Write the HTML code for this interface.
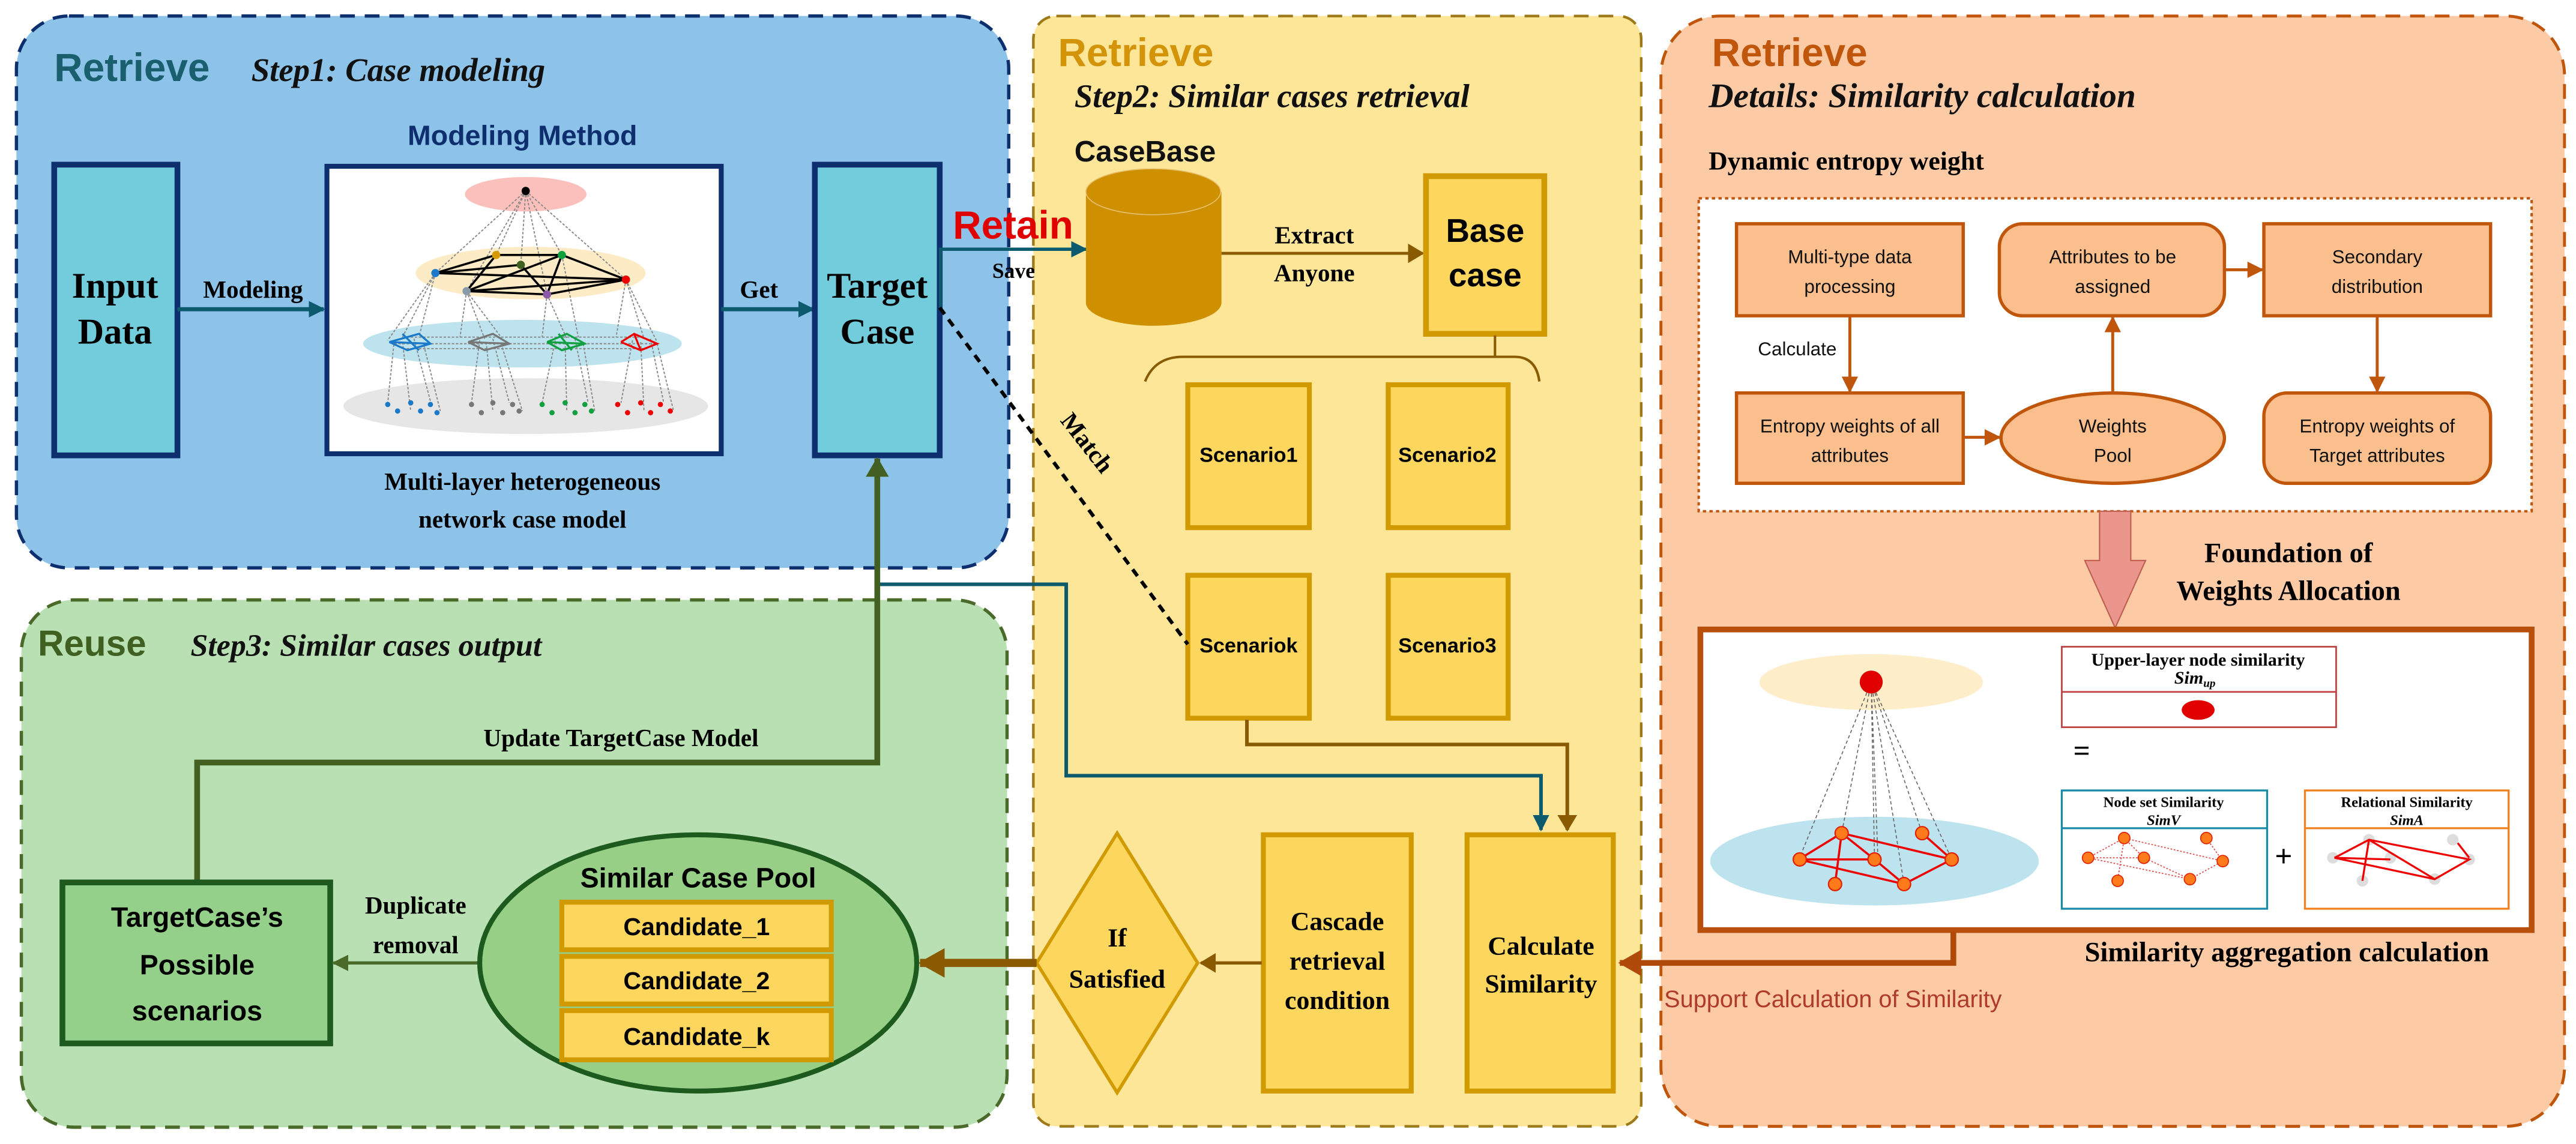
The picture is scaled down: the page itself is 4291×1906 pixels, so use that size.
<!DOCTYPE html>
<html><head><meta charset="utf-8"><style>
html,body{margin:0;padding:0;background:#fff;}
svg{display:block}
.s{font-family:"Liberation Sans",sans-serif;font-weight:bold}
.r{font-family:"Liberation Serif",serif;font-weight:bold}
.i{font-family:"Liberation Serif",serif;font-weight:bold;font-style:italic}
</style></head><body>
<svg width="4291" height="1906" viewBox="0 0 1568 696" xmlns="http://www.w3.org/2000/svg">
<defs>
<marker id="aT" markerWidth="10" markerHeight="10" refX="9" refY="5" orient="auto" markerUnits="userSpaceOnUse" viewBox="0 0 10 10"><path d="M0,0L10,5L0,10z" fill="#0b5a6e"/></marker>
<marker id="aB" markerWidth="10" markerHeight="12" refX="9" refY="6" orient="auto" markerUnits="userSpaceOnUse" viewBox="0 0 10 12"><path d="M0,0L10,6L0,12z" fill="#8a5a00"/></marker>
<marker id="aBig" markerWidth="16" markerHeight="18" refX="15" refY="9" orient="auto" markerUnits="userSpaceOnUse" viewBox="0 0 16 18"><path d="M0,0L16,9L0,18z" fill="#8a5a00"/></marker>
<marker id="aO" markerWidth="10" markerHeight="10" refX="9" refY="5" orient="auto" markerUnits="userSpaceOnUse" viewBox="0 0 10 10"><path d="M0,0L10,5L0,10z" fill="#c0560c"/></marker>
<marker id="aOBig" markerWidth="14" markerHeight="16" refX="13" refY="8" orient="auto" markerUnits="userSpaceOnUse" viewBox="0 0 14 16"><path d="M0,0L14,8L0,16z" fill="#b04a0a"/></marker>
<marker id="aG" markerWidth="10" markerHeight="10" refX="9" refY="5" orient="auto" markerUnits="userSpaceOnUse" viewBox="0 0 10 10"><path d="M0,0L10,5L0,10z" fill="#4a6a2a"/></marker>
<marker id="aGBig" markerWidth="12" markerHeight="14" refX="11" refY="7" orient="auto" markerUnits="userSpaceOnUse" viewBox="0 0 12 14"><path d="M0,0L12,7L0,14z" fill="#435f22"/></marker>
</defs>

<!-- Panels -->
<rect x="10" y="9.5" width="604" height="336" rx="32" fill="#8dc3e8" stroke="#0d2f6e" stroke-width="2" stroke-dasharray="9,6"/>
<rect x="13" y="365" width="600" height="321" rx="32" fill="#b8e0b3" stroke="#4a6a2a" stroke-width="2" stroke-dasharray="9,6"/>
<rect x="629" y="9.5" width="370" height="676" rx="14" fill="#fee699" stroke="#9c7a1a" stroke-width="1.6" stroke-dasharray="9,6"/>
<rect x="1011" y="9.5" width="550" height="676" rx="36" fill="#fdcaa6" stroke="#c0560c" stroke-width="1.8" stroke-dasharray="9,6"/>

<!-- Blue panel -->
<text x="33" y="49" class="s" font-size="24" fill="#1a5f6e">Retrieve</text>
<text x="153" y="49" class="i" font-size="20" fill="#111">Step1: Case modeling</text>
<text x="318" y="88" class="s" font-size="17" fill="#0d2f6e" text-anchor="middle">Modeling Method</text>
<rect x="33" y="100" width="75" height="177" fill="#72ccdc" stroke="#0d2f6e" stroke-width="3.5"/>
<text x="70" y="181" class="r" font-size="22" text-anchor="middle">Input</text>
<text x="70" y="209" class="r" font-size="22" text-anchor="middle">Data</text>
<line x1="108" y1="188" x2="197" y2="188" stroke="#0b5a6e" stroke-width="2.5" marker-end="url(#aT)"/>
<text x="154" y="181" class="r" font-size="15" text-anchor="middle">Modeling</text>
<rect x="199" y="101" width="240" height="175" fill="#fff" stroke="#0d2f6e" stroke-width="3"/>
<!-- network -->
<ellipse cx="320" cy="247" rx="111" ry="17" fill="#e6e6e6"/>
<ellipse cx="318" cy="209" rx="97" ry="14.5" fill="#bde3ee"/>
<ellipse cx="323" cy="166" rx="70" ry="16" fill="#fdebc6"/>
<ellipse cx="320" cy="118" rx="37" ry="10.5" fill="#fcc0bc"/>
<g stroke="#888" stroke-width="0.7" stroke-dasharray="1.5,1" fill="none">
<path d="M320,116L265,166M320,116L302,155M320,116L317,161M320,116L342,155M320,116L381,170M320,116L284,177M320,116L333,179"/>
<path d="M265,166L245,205M265,166L255,205M265,166L236,207M284,177L280,205M284,177L295,206M284,177L305,205M333,179L330,205M333,179L345,206M342,155L352,205M381,170L375,205M381,170L392,206M381,170L400,208"/>
<path d="M240,207L236,245M245,208L250,250M252,206L262,244M258,210L268,250M292,207L287,245M296,208L300,250M300,206L310,245M305,209L318,250M338,207L330,245M344,208L345,250M350,206L358,245M355,209L362,250M385,207L378,245M390,208L392,250M396,206L404,245M400,209L410,250"/>
<path d="M240,209L400,209M245,212L395,212M250,205L390,205"/>
</g>
<g stroke="#000" stroke-width="1.3" fill="none">
<path d="M265,166L302,155L342,155L381,170L333,179L284,177L342,155M265,166L317,161M265,166L381,170M302,155L284,177M284,177L381,170M317,161L333,179M342,155L333,179"/>
</g>
<circle cx="320" cy="116" r="2.5" fill="#000"/>
<circle cx="265" cy="166" r="2.5" fill="#1a7ac9"/><circle cx="302" cy="155" r="2.5" fill="#d49a00"/><circle cx="317" cy="161" r="2.5" fill="#3f6020"/><circle cx="342" cy="155" r="2.5" fill="#0fa040"/><circle cx="381" cy="170" r="2.5" fill="#e00"/><circle cx="284" cy="177" r="2.5" fill="#8899aa"/><circle cx="333" cy="179" r="2.5" fill="#8a5aa8"/>
<g fill="none" stroke-width="1.2">
<path d="M237,208L255,203L262,209L248,213L237,208L262,209M245,203L255,213" stroke="#1a7ac9"/>
<path d="M285,208L300,203L310,209L295,213L285,208L310,209" stroke="#777"/>
<path d="M333,208L345,203L356,209L342,213L333,208L356,209M340,203L348,213" stroke="#0fa040"/>
<path d="M378,208L386,203L400,209L390,213L378,208M386,203L390,213" stroke="#e00"/>
</g>
<g fill="#1a7ac9"><circle cx="236" cy="246" r="1.6"/><circle cx="242" cy="250" r="1.6"/><circle cx="250" cy="245" r="1.6"/><circle cx="256" cy="250" r="1.6"/><circle cx="262" cy="246" r="1.6"/><circle cx="266" cy="251" r="1.6"/></g>
<g fill="#777"><circle cx="287" cy="246" r="1.6"/><circle cx="293" cy="251" r="1.6"/><circle cx="300" cy="245" r="1.6"/><circle cx="306" cy="251" r="1.6"/><circle cx="312" cy="246" r="1.6"/><circle cx="316" cy="250" r="1.6"/></g>
<g fill="#0fa040"><circle cx="330" cy="246" r="1.6"/><circle cx="336" cy="251" r="1.6"/><circle cx="344" cy="245" r="1.6"/><circle cx="350" cy="251" r="1.6"/><circle cx="356" cy="246" r="1.6"/><circle cx="360" cy="250" r="1.6"/></g>
<g fill="#e00"><circle cx="376" cy="246" r="1.6"/><circle cx="382" cy="251" r="1.6"/><circle cx="390" cy="245" r="1.6"/><circle cx="396" cy="251" r="1.6"/><circle cx="402" cy="246" r="1.6"/><circle cx="408" cy="250" r="1.6"/></g>
<text x="318" y="298" class="r" font-size="15" text-anchor="middle">Multi-layer heterogeneous</text>
<text x="318" y="321" class="r" font-size="15" text-anchor="middle">network case model</text>
<line x1="439" y1="188" x2="495" y2="188" stroke="#0b5a6e" stroke-width="2.5" marker-end="url(#aT)"/>
<text x="462" y="181" class="r" font-size="15" text-anchor="middle">Get</text>
<rect x="496" y="100" width="76" height="177" fill="#72ccdc" stroke="#0d2f6e" stroke-width="3.5"/>
<text x="534" y="181" class="r" font-size="22" text-anchor="middle">Target</text>
<text x="534" y="209" class="r" font-size="22" text-anchor="middle">Case</text>

<!-- Retain / save -->
<text x="580" y="145" class="s" font-size="24" fill="#e00000">Retain</text>
<path d="M572.5,188L572.5,151.5L661,151.5" fill="none" stroke="#0b5a6e" stroke-width="2" marker-end="url(#aT)"/>
<text x="604" y="169" class="r" font-size="13">Save</text>

<!-- Yellow panel -->
<text x="644" y="40" class="s" font-size="24" fill="#d4940a">Retrieve</text>
<text x="654" y="65" class="i" font-size="20" fill="#111">Step2: Similar cases retrieval</text>
<text x="654" y="98" class="s" font-size="18" fill="#111">CaseBase</text>
<path d="M661,116.5L661,184A41,14 0 0 0 743.5,184L743.5,116.5Z" fill="#cf9000"/>
<ellipse cx="702" cy="116.5" rx="41" ry="14" fill="#cf9000" stroke="#e8c070" stroke-width="0.6"/>
<line x1="743.5" y1="154" x2="866" y2="154" stroke="#8a5a00" stroke-width="1.8" marker-end="url(#aB)"/>
<text x="800" y="148" class="r" font-size="15" text-anchor="middle">Extract</text>
<text x="800" y="171" class="r" font-size="15" text-anchor="middle">Anyone</text>
<rect x="868" y="107" width="72" height="96" fill="#fdd75d" stroke="#d09a00" stroke-width="3.5"/>
<text x="904" y="147" class="s" font-size="20" text-anchor="middle">Base</text>
<text x="904" y="174" class="s" font-size="20" text-anchor="middle">case</text>
<line x1="910" y1="204" x2="910" y2="217" stroke="#8a5a00" stroke-width="1.5"/>
<path d="M697,232Q703,217 720,217L922,217Q935,217 937,232" fill="none" stroke="#8a5a00" stroke-width="1.5"/>
<g fill="#fdd75d" stroke="#d09a00" stroke-width="3">
<rect x="723" y="234" width="74" height="87"/><rect x="845" y="234" width="73" height="87"/>
<rect x="723" y="350" width="74" height="87"/><rect x="845" y="350" width="73" height="87"/>
</g>
<text x="760" y="281" class="s" font-size="12.5" text-anchor="middle">Scenario1</text>
<text x="881" y="281" class="s" font-size="12.5" text-anchor="middle">Scenario2</text>
<text x="760" y="397" class="s" font-size="12.5" text-anchor="middle">Scenariok</text>
<text x="881" y="397" class="s" font-size="12.5" text-anchor="middle">Scenario3</text>
<!-- Match -->
<line x1="572" y1="187" x2="723" y2="392" stroke="#000" stroke-width="2.2" stroke-dasharray="5,4"/>
<text x="0" y="0" class="r" font-size="15" transform="translate(645,256) rotate(52)">Match</text>
<!-- connectors to calculate -->
<path d="M535,355.5L649,355.5L649,472L938,472L938,505" fill="none" stroke="#0b5a6e" stroke-width="2.2" marker-end="url(#aT)"/>
<path d="M759,438L759,453L954,453L954,505" fill="none" stroke="#8a5a00" stroke-width="2.2" marker-end="url(#aB)"/>
<g fill="#fdd75d" stroke="#d09a00" stroke-width="3">
<rect x="893" y="508" width="89" height="156"/>
<rect x="769" y="508" width="90" height="156"/>
<path d="M680,507L729,586L680,665L631,586Z" stroke-width="2"/>
</g>
<text x="938" y="581" class="r" font-size="16" text-anchor="middle">Calculate</text>
<text x="938" y="604" class="r" font-size="16" text-anchor="middle">Similarity</text>
<text x="814" y="566" class="r" font-size="16" text-anchor="middle">Cascade</text>
<text x="814" y="590" class="r" font-size="16" text-anchor="middle">retrieval</text>
<text x="814" y="614" class="r" font-size="16" text-anchor="middle">condition</text>
<text x="680" y="576" class="r" font-size="16" text-anchor="middle">If</text>
<text x="680" y="601" class="r" font-size="16" text-anchor="middle">Satisfied</text>
<line x1="768" y1="586" x2="731" y2="586" stroke="#8a5a00" stroke-width="2" marker-end="url(#aB)"/>
<line x1="631" y1="586" x2="560" y2="586" stroke="#8a5a00" stroke-width="5" marker-end="url(#aBig)"/>

<!-- Green panel -->
<text x="23" y="399" class="s" font-size="22" fill="#3f6020">Reuse</text>
<text x="116" y="399" class="i" font-size="19" fill="#111">Step3: Similar cases output</text>
<path d="M120,536L120,464L534,464L534,279" fill="none" stroke="#435f22" stroke-width="3.5" marker-end="url(#aGBig)"/>
<text x="378" y="454" class="r" font-size="15" text-anchor="middle">Update TargetCase Model</text>
<rect x="38" y="537" width="163" height="98" fill="#94d08a" stroke="#1e5a1e" stroke-width="3.5"/>
<text x="120" y="564" class="s" font-size="17" text-anchor="middle">TargetCase’s</text>
<text x="120" y="593" class="s" font-size="17" text-anchor="middle">Possible</text>
<text x="120" y="621" class="s" font-size="17" text-anchor="middle">scenarios</text>
<line x1="291" y1="586" x2="203" y2="586" stroke="#4a6a2a" stroke-width="2" marker-end="url(#aG)"/>
<text x="253" y="556" class="r" font-size="15" text-anchor="middle">Duplicate</text>
<text x="253" y="580" class="r" font-size="15" text-anchor="middle">removal</text>
<ellipse cx="425" cy="586" rx="133" ry="78" fill="#96cf85" stroke="#1d5a1d" stroke-width="3"/>
<text x="425" y="540" class="s" font-size="17" text-anchor="middle">Similar Case Pool</text>
<g fill="#fdd75d" stroke="#d09a00" stroke-width="3">
<rect x="342" y="549" width="164" height="29"/><rect x="342" y="582" width="164" height="29"/><rect x="342" y="615" width="164" height="30"/>
</g>
<text x="424" y="569" class="s" font-size="15" text-anchor="middle">Candidate_1</text>
<text x="424" y="602" class="s" font-size="15" text-anchor="middle">Candidate_2</text>
<text x="424" y="636" class="s" font-size="15" text-anchor="middle">Candidate_k</text>

<!-- Orange panel -->
<text x="1042" y="40" class="s" font-size="24" fill="#c0560c">Retrieve</text>
<text x="1040" y="65" class="i" font-size="21" fill="#111">Details: Similarity calculation</text>
<text x="1040" y="103" class="r" font-size="16">Dynamic entropy weight</text>
<rect x="1034" y="120.5" width="507" height="190.5" fill="#fff" stroke="#c0560c" stroke-width="1.5" stroke-dasharray="2,2"/>
<g fill="#fbbf8e" stroke="#c0560c" stroke-width="2">
<rect x="1057" y="136" width="138" height="56"/>
<rect x="1217" y="136" width="137" height="56" rx="14"/>
<rect x="1378" y="136" width="138" height="56"/>
<rect x="1057" y="239" width="138" height="55"/>
<ellipse cx="1286" cy="266.5" rx="68" ry="27.5"/>
<rect x="1378" y="239" width="138" height="55" rx="14"/>
</g>
<g class="s" font-size="11.5" text-anchor="middle" fill="#111" style="font-weight:normal">
<text x="1126" y="160">Multi-type data</text><text x="1126" y="178">processing</text>
<text x="1286" y="160">Attributes to be</text><text x="1286" y="178">assigned</text>
<text x="1447" y="160">Secondary</text><text x="1447" y="178">distribution</text>
<text x="1126" y="263">Entropy weights of all</text><text x="1126" y="281">attributes</text>
<text x="1286" y="263">Weights</text><text x="1286" y="281">Pool</text>
<text x="1447" y="263">Entropy weights of</text><text x="1447" y="281">Target attributes</text>
<text x="1094" y="216">Calculate</text>
</g>
<g stroke="#c0560c" stroke-width="1.8" fill="none">
<line x1="1126" y1="192" x2="1126" y2="238" marker-end="url(#aO)"/>
<line x1="1286" y1="239" x2="1286" y2="193" marker-end="url(#aO)"/>
<line x1="1447" y1="192" x2="1447" y2="238" marker-end="url(#aO)"/>
<line x1="1195" y1="266" x2="1217" y2="266" marker-end="url(#aO)"/>
<line x1="1354" y1="164" x2="1377" y2="164" marker-end="url(#aO)"/>
</g>
<path d="M1278,311L1297,311L1297,341L1306,341L1287.5,382L1269,341L1278,341Z" fill="#ea968c" stroke="#c06050" stroke-width="0.8"/>
<text x="1393" y="342" class="r" font-size="17" text-anchor="middle">Foundation of</text>
<text x="1393" y="365" class="r" font-size="17" text-anchor="middle">Weights Allocation</text>
<rect x="1035" y="383" width="506" height="183" fill="#fff" stroke="#b84f0a" stroke-width="3.5"/>
<ellipse cx="1139" cy="415" rx="68" ry="17" fill="#fdedc8"/>
<ellipse cx="1141" cy="524" rx="100" ry="27" fill="#bde3ee"/>
<g stroke="#666" stroke-width="0.6" stroke-dasharray="2,1.5">
<path d="M1139,415L1095,523M1139,415L1121,507M1139,415L1141,523M1139,415L1159,538M1139,415L1170,507M1139,415L1188,523M1139,415L1143,520"/>
</g>
<g stroke="#e00" stroke-width="1.3" fill="none">
<path d="M1095,523L1121,507L1188,523L1159,538L1095,523L1141,523M1121,507L1117,538M1121,507L1141,523L1159,538M1170,507L1188,523"/>
</g>
<g fill="#ff7a1a" stroke="#e02000" stroke-width="0.8">
<circle cx="1095.5" cy="523" r="4"/><circle cx="1121" cy="507" r="4"/><circle cx="1141" cy="523" r="4"/><circle cx="1170" cy="507" r="4"/><circle cx="1188" cy="523" r="4"/><circle cx="1117" cy="538" r="4"/><circle cx="1159" cy="538" r="4"/>
</g>
<circle cx="1139" cy="415" r="7" fill="#e00000"/>
<rect x="1255" y="393.5" width="167" height="49" fill="#fff" stroke="#c04040" stroke-width="1"/>
<line x1="1255" y1="421" x2="1422" y2="421" stroke="#c04040" stroke-width="1"/>
<text x="1338" y="405" class="r" font-size="11" text-anchor="middle">Upper-layer node similarity</text>
<text x="1336" y="416" class="i" font-size="11" text-anchor="middle">Sim<tspan font-size="7" dy="2">up</tspan></text>
<ellipse cx="1338" cy="432" rx="10" ry="6" fill="#e00000"/>
<text x="1262" y="463" class="r" font-size="18">=</text>
<rect x="1255" y="481" width="125" height="72" fill="#fff" stroke="#1a8aa6" stroke-width="1.2"/>
<line x1="1255" y1="504" x2="1380" y2="504" stroke="#1a8aa6" stroke-width="1.2"/>
<text x="1317" y="491" class="r" font-size="9" text-anchor="middle">Node set Similarity</text>
<text x="1317" y="502" class="i" font-size="9" text-anchor="middle">SimV</text>
<rect x="1403" y="481" width="124" height="72" fill="#fff" stroke="#f08020" stroke-width="1.2"/>
<line x1="1403" y1="504" x2="1527" y2="504" stroke="#f08020" stroke-width="1.2"/>
<text x="1465" y="491" class="r" font-size="9" text-anchor="middle">Relational Similarity</text>
<text x="1465" y="502" class="i" font-size="9" text-anchor="middle">SimA</text>
<text x="1390" y="527" class="s" font-size="18" text-anchor="middle" style="font-weight:normal">+</text>
<g stroke="#e04040" stroke-width="0.6" stroke-dasharray="1,1" fill="none">
<path d="M1271,522L1293,510L1353,524L1333,535L1271,522L1305,522M1293,510L1289,536M1293,510L1305,522L1333,535M1343,510L1353,524"/>
</g>
<g fill="#ff7a1a" stroke="#e02000" stroke-width="0.6">
<circle cx="1271" cy="522" r="3.5"/><circle cx="1293" cy="510" r="3.5"/><circle cx="1305" cy="522" r="3.5"/><circle cx="1343" cy="510" r="3.5"/><circle cx="1353" cy="524" r="3.5"/><circle cx="1289" cy="536" r="3.5"/><circle cx="1333" cy="535" r="3.5"/>
</g>
<g fill="#ddd"><circle cx="1420" cy="522" r="3.5"/><circle cx="1442" cy="511" r="3.5"/><circle cx="1455" cy="522" r="3.5"/><circle cx="1493" cy="511" r="3.5"/><circle cx="1503" cy="523" r="3.5"/><circle cx="1438" cy="536" r="3.5"/><circle cx="1482" cy="535" r="3.5"/></g>
<g stroke="#e00" stroke-width="1.2" fill="none">
<path d="M1421,522L1442,511L1503,523L1482,535L1421,522L1455,523M1442,511L1438,536M1442,511L1482,535M1496,513L1503,522"/>
</g>
<text x="1392" y="585" class="r" font-size="17" text-anchor="middle">Similarity aggregation calculation</text>
<path d="M1189,567L1189,586L986,586" fill="none" stroke="#b04a0a" stroke-width="3.5" marker-end="url(#aOBig)"/>
<text x="1013" y="613" class="s" font-size="14.5" fill="#b03a2a" style="font-weight:normal">Support Calculation of Similarity</text>
</svg>
</body></html>
